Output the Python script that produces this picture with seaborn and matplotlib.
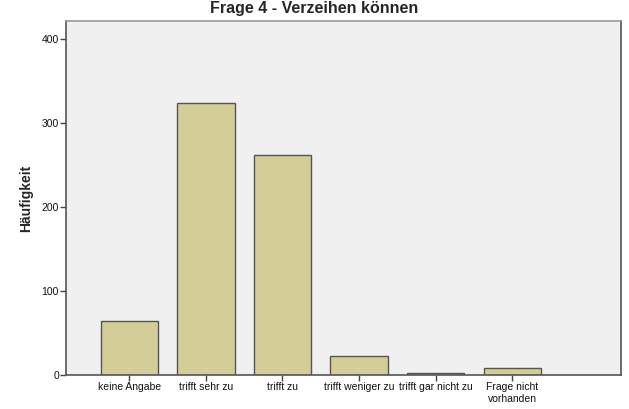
import numpy as np
import pandas as pd
import matplotlib
matplotlib.use("Agg")
import matplotlib.pyplot as plt
import seaborn as sns

# data
categories = ["keine Angabe", "trifft sehr zu", "trifft zu", "trifft weniger zu",
              "trifft gar nicht zu", "Frage nicht\nvorhanden"]
counts = [64, 323, 262, 23, 2, 8]

df = pd.DataFrame({"Antwort": categories, "Häufigkeit": counts})

sns.set_style("white")
plt.rcParams["font.family"] = ["Liberation Sans", "DejaVu Sans"]

fig = plt.figure(figsize=(6.29, 4.09), dpi=100)
ax = fig.add_axes([66 / 629, 34 / 409, 555 / 629, 354 / 409])
ax.set_facecolor("#F0F0F0")

sns.barplot(data=df, x="Antwort", y="Häufigkeit", color="#D3CE97", width=0.75,
            edgecolor="#555555", linewidth=1.0, saturation=1, ax=ax)

ax.set_xlim(-0.826, 6.42)
ax.set_ylim(0, 421)
ax.set_yticks([0, 100, 200, 300, 400])
ax.tick_params(axis="both", direction="out", length=4, width=1, color="#444444",
               labelsize=7.5, labelcolor="#111111", pad=1, bottom=True, left=True)
ax.set_xlabel("")
ax.set_ylabel("Häufigkeit", fontsize=10, fontweight="bold", labelpad=6)

for side in ["left", "bottom", "right"]:
    ax.spines[side].set_color("#555555")
    ax.spines[side].set_linewidth(1.2)
ax.spines["top"].set_color("#999999")
ax.spines["top"].set_linewidth(1.2)

fig.text(0.5, 0.997, "Frage 4 - Verzeihen können", ha="center", va="top",
         fontsize=11.5, fontweight="bold")

fig.savefig("out.png", dpi=100)
